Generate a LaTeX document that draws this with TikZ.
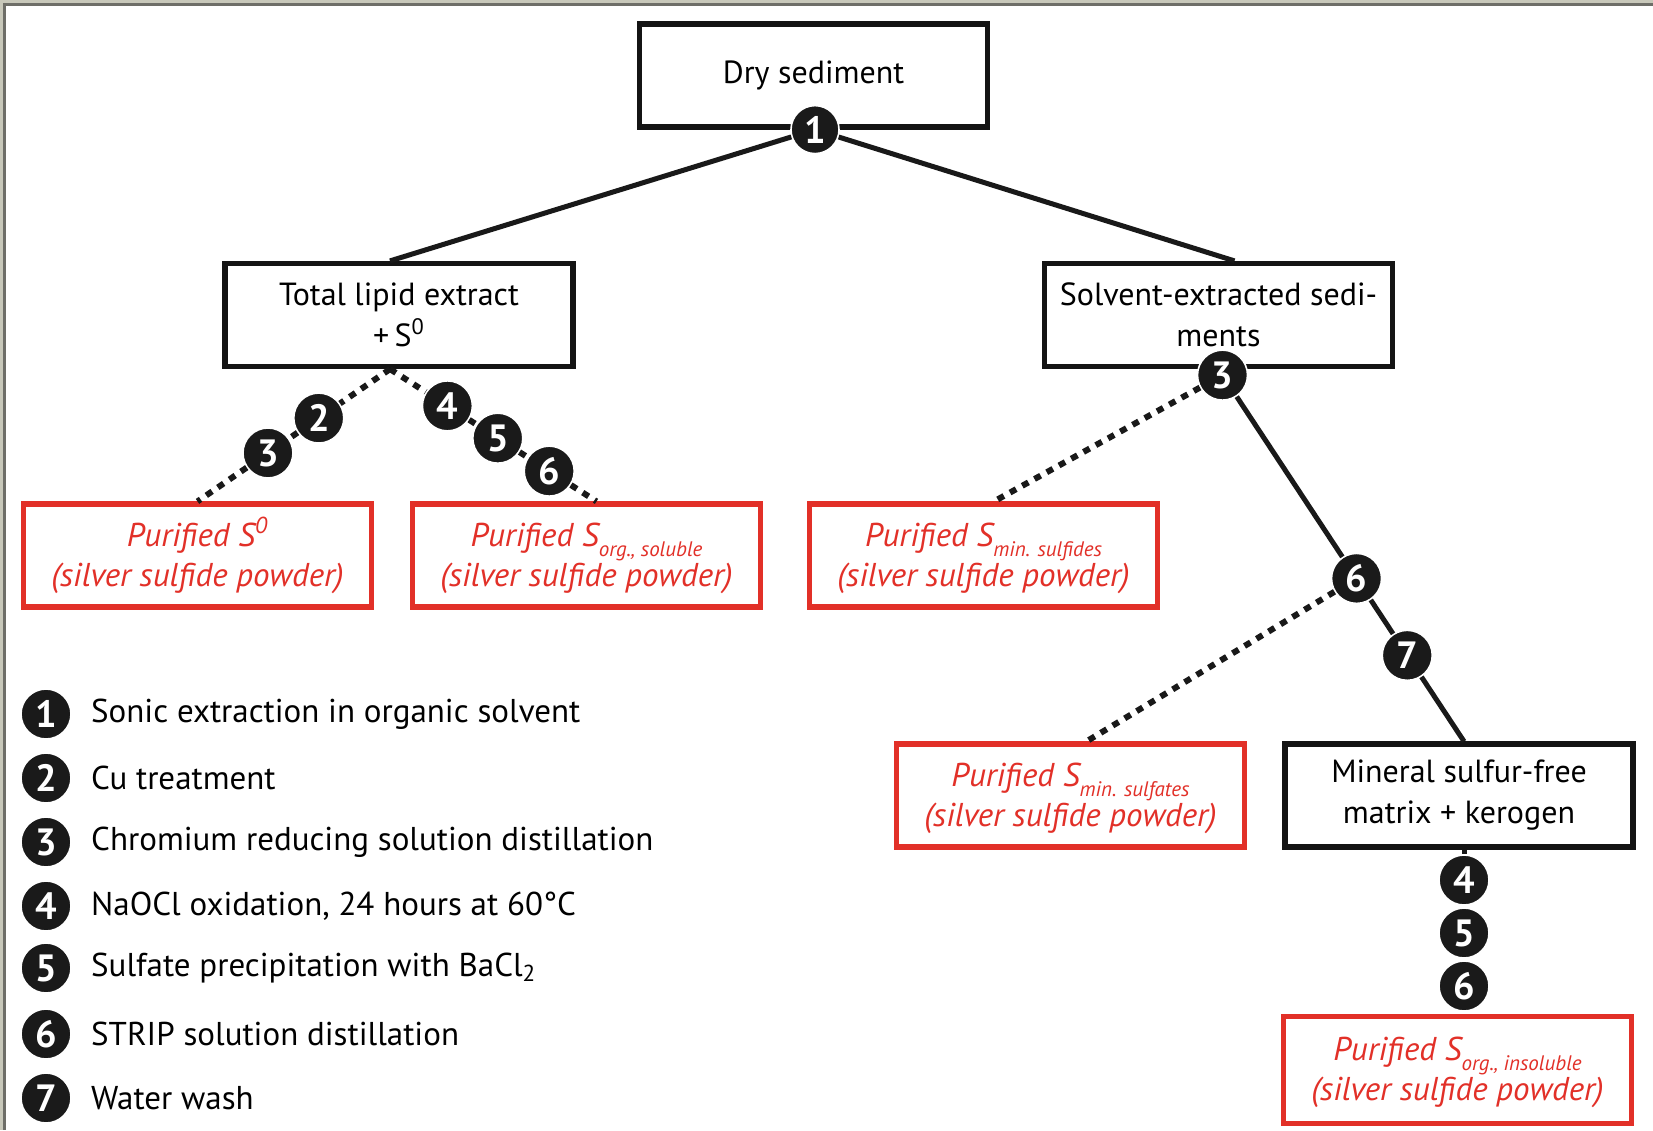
\documentclass[tikz,border=0pt]{standalone}
\usepackage{fontspec}
\setmainfont{PT Sans}
\usetikzlibrary{calc}
\definecolor{redbox}{RGB}{226,48,40}
\definecolor{circfill}{RGB}{26,26,26}
\definecolor{framegray}{RGB}{200,200,186}
\definecolor{framedark}{RGB}{110,110,104}
\newcommand{\subtx}[1]{\vphantom{S\textsuperscript{0}}\raisebox{-0.6ex}[0pt][0pt]{\fontsize{10.5}{11}\selectfont #1}}
\begin{document}
\begin{tikzpicture}[x=0.5pt,y=-0.5pt,
  bbox/.style={draw=black!92, line width=2.6pt, fill=white, minimum width=174pt, minimum height=51.5pt, align=center, inner sep=0pt, font=\fontsize{16}{20.5}\selectfont},
  rbox/.style={draw=redbox, line width=2.6pt, fill=white, minimum width=174pt, minimum height=51.5pt, align=center, inner sep=0pt, text=redbox, font=\fontsize{16.5}{20}\selectfont\itshape},
  num/.style={circle, fill=circfill, draw=white, line width=0.8pt, minimum size=25pt, inner sep=0pt, text=white, font=\fontsize{19}{19}\selectfont\bfseries},
  legtext/.style={anchor=west, inner sep=0pt, font=\fontsize{16.5}{20}\selectfont},
  solidline/.style={draw=black!90, line width=2.5pt},
  dotline/.style={draw=black!90, line width=3pt, dash pattern=on 3.5pt off 3.5pt}
]
\useasboundingbox (0,0) rectangle (1653,1130);
\fill[framegray] (0,0) rectangle (1653,1130);
\fill[framedark] (3,3) rectangle (1653,1130);
\fill[white] (6,6) rectangle (1653,1130);

% boxes
\node[bbox] (dry) at (813.5,75.5) {Dry sediment};
\node[bbox] (tle) at (399,315) {Total lipid extract\\+\,S\textsuperscript{0}};
\node[bbox] (sed) at (1218.5,315) {Solvent-extracted sedi-\\ments};
\node[rbox] (rs0) at (197.5,555.5) {Purified S\textsuperscript{0}\\(silver sulfide powder)};
\node[rbox] (rsol) at (586.5,555.5) {Purified S\subtx{org., soluble}\\(silver sulfide powder)};
\node[rbox] (rsfd) at (983.5,555.5) {Purified S\subtx{min. sulfides}\\(silver sulfide powder)};
\node[rbox] (rsft) at (1070.5,795.5) {Purified S\subtx{min. sulfates}\\(silver sulfide powder)};
\node[bbox] (mfm) at (1459,795.5) {Mineral sulfur-free\\matrix + kerogen};
\node[rbox, minimum height=53.5pt] (rins) at (1457.5,1070) {Purified S\subtx{org., insoluble}\\(silver sulfide powder)};

% anchor points
\coordinate (tleT) at ([xshift=-4.5pt]tle.north);
\coordinate (tleB) at ([xshift=-4.5pt]tle.south);
\coordinate (sedT) at ([xshift=8pt]sed.north);
\coordinate (rs0T) at (rs0.north);
\coordinate (rsolT) at ([xshift=5pt]rsol.north);
\coordinate (rsfdT) at ([xshift=5.25pt]rsfd.north);
\coordinate (rsftT) at ([xshift=8pt]rsft.north);
\coordinate (mfmT) at ([xshift=2.5pt]mfm.north);
\coordinate (mfmB) at ([xshift=2.5pt]mfm.south);

% step circles
\node[num, minimum size=24pt] (a1) at ([xshift=0.75pt]dry.south) {1};
\node[num] (s3) at ([xshift=2pt,yshift=-3pt]sed.south) {3};
\path (tleB) -- (rs0T) node[num, pos=0.37] (b2) {2} node[num, pos=0.634] (b3) {3};
\path (tleB) -- (rsolT) node[num, pos=0.278] (c4) {4} node[num, pos=0.522] (c5) {5} node[num, pos=0.771] (c6) {6};
\path (s3.center) -- (mfmT) node[num, pos=0.555] (e6) {6} node[num, pos=0.765] (e7) {7};
\node[num] (d4) at (1464,880) {4};
\node[num] (d5) at (1464,933) {5};
\node[num] (d6) at (1464,986) {6};

% connectors
\draw[solidline] (a1) -- (tleT);
\draw[solidline] (a1) -- (sedT);
\draw[dotline] (tleB) -- (b2) -- (b3) -- (rs0T);
\draw[dotline] (tleB) -- (c4) -- (c5) -- (c6) -- (rsolT);
\draw[dotline] (s3) -- (rsfdT);
\draw[solidline] (s3) -- (e6) -- (e7) -- (mfmT);
\draw[dotline] (e6) -- (rsftT);
\draw[solidline] (mfmB) -- (d4);

% legend
\foreach \i/\y/\t in {1/714/Sonic extraction in organic solvent,
                      2/778/Cu treatment,
                      3/842/Chromium reducing solution distillation,
                      4/906/{NaOCl oxidation, 24 hours at 60°C},
                      5/968/Sulfate precipitation with BaCl\textsubscript{2},
                      6/1034/STRIP solution distillation,
                      7/1098/Water wash}{
  \node[num] (l\i) at (46,\y) {\i};
  \node[legtext] (lt\i) at ([xshift=9.5pt]l\i.east) {\t};
}
\end{tikzpicture}
\end{document}
